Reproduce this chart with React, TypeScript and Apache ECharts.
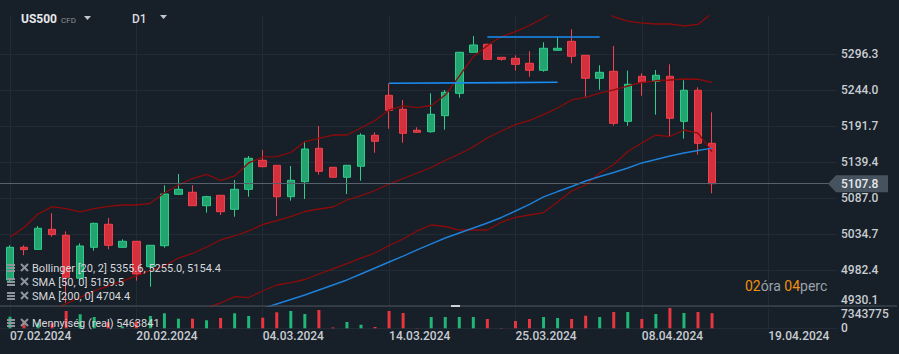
import React, { useEffect, useRef } from 'react';
import * as echarts from 'echarts';

// ---------- data ----------
const dates = [
  '07.02.2024','08.02.2024','09.02.2024','12.02.2024','13.02.2024','14.02.2024','15.02.2024','16.02.2024','19.02.2024','20.02.2024',
  '21.02.2024','22.02.2024','23.02.2024','26.02.2024','27.02.2024','28.02.2024','29.02.2024','01.03.2024','04.03.2024',
  '05.03.2024','06.03.2024','07.03.2024','08.03.2024','10.03.2024','11.03.2024','12.03.2024','13.03.2024','14.03.2024',
  '15.03.2024','17.03.2024','18.03.2024','19.03.2024','20.03.2024','21.03.2024','22.03.2024','24.03.2024','25.03.2024',
  '26.03.2024','27.03.2024','28.03.2024','01.04.2024','02.04.2024','03.04.2024','04.04.2024','05.04.2024','08.04.2024',
  '09.04.2024','10.04.2024','11.04.2024','12.04.2024','15.04.2024','16.04.2024','17.04.2024','18.04.2024','19.04.2024'
];

const opens = [
  4967.9, 5015.4, 5012.4, 5041.5, 5032.8, 4970.5, 5015.4, 5048.8, 5015.4, 5024.1,
  4987.2, 5017.7, 5092.4, 5095.3, 5075.8, 5090.9, 5070.6, 5099.6, 5141.8, 5134.5,
  5088.9, 5110.7, 5159.2, 5131.6, 5117.1, 5133.1, 5178.1, 5236.2, 5215.9, 5185.4,
  5183.3, 5206.6, 5239.1, 5298.7, 5310.3, 5291.4, 5289.9, 5282.7, 5272.5, 5301.6,
  5314.6, 5294.3, 5260.9, 5271.1, 5198.4, 5263.8, 5256.5, 5263.8, 5198.4, 5243.5, 5166.5
];
const closes = [
  5015.4, 5012.0, 5043.0, 5033.8, 4971.8, 5017.3, 5050.2, 5018.3, 5024.1, 4976.6,
  5018.3, 5092.8, 5099.6, 5075.8, 5088.9, 5067.1, 5099.6, 5144.7, 5132.5, 5088.9,
  5112.7, 5158.2, 5125.8, 5117.1, 5134.5, 5178.1, 5169.4, 5214.4, 5181.0, 5182.5,
  5208.6, 5240.6, 5298.7, 5309.3, 5288.5, 5288.5, 5281.2, 5272.5, 5304.5, 5304.5,
  5292.9, 5260.9, 5269.6, 5195.5, 5252.2, 5255.1, 5265.3, 5202.8, 5243.5, 5166.5, 5107.8
];
const lows = [
  4963.5, 5003.8, 5012.0, 5030.8, 4934.9, 4967.9, 5010.4, 5012.5, 5015.0, 4966.9,
  4958.1, 5014.8, 5092.0, 5075.5, 5065.6, 5062.3, 5059.8, 5088.9, 5131.6, 5060.9,
  5083.1, 5085.5, 5120.9, 5117.0, 5092.8, 5112.1, 5152.8, 5187.7, 5167.3, 5182.0,
  5181.9, 5186.2, 5232.7, 5298.7, 5288.0, 5286.5, 5272.0, 5263.2, 5270.5, 5301.0,
  5282.7, 5234.2, 5244.3, 5192.0, 5192.0, 5235.6, 5208.0, 5176.6, 5173.2, 5149.9, 5093.8
];
const highs = [
  5018.3, 5018.3, 5046.3, 5064.8, 5038.6, 5021.2, 5051.0, 5058.0, 5027.0, 5024.5,
  5018.5, 5105.4, 5121.9, 5105.4, 5090.3, 5091.0, 5113.2, 5148.0, 5156.7, 5134.5,
  5133.5, 5169.8, 5191.6, 5132.0, 5135.0, 5181.0, 5182.5, 5253.6, 5229.4, 5189.7,
  5239.1, 5243.9, 5299.0, 5322.4, 5311.0, 5291.5, 5294.3, 5300.1, 5313.2, 5321.0,
  5332.1, 5294.5, 5279.8, 5307.8, 5272.0, 5268.2, 5272.9, 5281.2, 5258.0, 5247.8, 5211.5
];
const volumes = [
  4196500, 2748300, 1987600, 1812400, 6255100, 5061800, 4093200, 2214700, 718900, 2496300,
  4452600, 5427900, 3468200, 3474100, 2893500, 3727800, 5431600, 4449300, 3826400, 5792100,
  6258700, 5168400, 6617300, 301200, 2283600, 1297500, 468300, 6262400, 5528100, 98700,
  4087900, 4094600, 4091300, 4085200, 3362700, 104800, 2638900, 3357400, 4092800, 3731600,
  3364100, 4558200, 4089700, 5897300, 5903600, 3358900, 5172500, 7343775, 5526400, 5898200, 5463841
];
const bollUpper = [
  5029.9, 5044.1, 5063.8, 5074.4, 5071.7, 5066.7, 5071.7, 5074.7, 5076.8, 5076.8, 5079.3,
  5094.7, 5105.9, 5115.3, 5121.4, 5112.4, 5119.0, 5137.9, 5146.6, 5147.0, 5153.1,
  5168.8, 5173.7, 5178.5, 5178.5, 5188.7, 5199.6, 5214.8, 5220.7, 5218.2, 5221.4,
  5236.6, 5264.2, 5292.3, 5308.6, 5321.6, 5328.6, 5337.6, 5348.5, 5361.6, 5368.8,
  5371.8, 5365.9, 5350.0, 5344.1, 5341.2, 5339.8, 5339.8, 5336.9, 5339.1, 5355.6
];
const bollMiddle = [
  null, null, null, 4924.3, 4933.4, 4942.6, 4951.9, 4959.2, 4966.1, 4974.0, 4981.7,
  4988.2, 4999.8, 5006.4, 5015.8, 5026.0, 5031.8, 5039.1, 5048.5, 5054.3, 5060.1,
  5067.4, 5071.0, 5073.9, 5084.1, 5090.6, 5097.9, 5107.3, 5115.3, 5123.3, 5131.3,
  5141.5, 5150.9, 5161.5, 5174.2, 5184.3, 5193.5, 5199.6, 5208.0, 5217.8, 5229.4,
  5233.3, 5239.5, 5244.2, 5249.7, 5254.8, 5257.3, 5258.4, 5259.9, 5259.5, 5255.0
];
const bollLower = [
  null, null, null, null, null, null, null, null, null, null, null, null, null,
  4915.6, 4927.2, 4934.5, 4943.6, 4942.4, 4951.9, 4960.6, 4964.2,
  4968.6, 4976.6, 4983.9, 4991.8, 4999.8, 5007.1, 5018.0, 5027.4, 5039.1, 5047.8,
  5045.6, 5040.5, 5040.5, 5040.5, 5052.1, 5058.7, 5062.3, 5065.9, 5081.2, 5097.2,
  5105.9, 5123.3, 5135.7, 5154.6, 5166.9, 5178.5, 5176.3, 5185.8, 5181.4, 5154.4
];
const sma50 = [
  null, null, null, null, null, null, null, null, null, null,
  null, null, null, null, null, null, null, null,
  4926.5, 4933.0, 4939.5, 4946.1, 4953.3, 4960.6, 4967.9, 4976.6, 4985.3, 4994.0,
  5002.7, 5011.5, 5020.2, 5028.9, 5036.2, 5043.4, 5050.7, 5058.7, 5068.1, 5077.6,
  5088.5, 5096.4, 5103.7, 5111.7, 5118.2, 5124.0, 5130.6, 5137.9, 5142.9, 5148.0,
  5152.4, 5156.0, 5159.5
];
const priceTicks = [4930.1, 4982.4, 5034.7, 5087.0, 5139.4, 5191.7, 5244.0, 5296.3];
const dateTicks = [0, 9, 18, 27, 36, 45, 54];
// drawn horizontal levels: [startIndex, startPrice, endIndex, endPrice]
const levelLow = [27, 5253.6, 39, 5255.1];
const levelHigh = [34, 5321.9, 42, 5321.9];

const legendRows = [
  'Bollinger [20, 2] 5355.6, 5255.0, 5154.4',
  'SMA [50, 0] 5159.5',
  'SMA [200, 0] 4704.4',
];
const volumeLegend = 'Mennyiség (real) 5463841';

// ---------- style ----------
const BG = '#171f28';
const GRID = '#222b35';
const GREEN = '#22a36f';
const GREEN_B = '#2dcf8b';
const RED = '#d5303d';
const RED_B = '#f2404c';
const DARK_RED = '#8c0b0b';
const BLUE = '#1f80d8';
const LEVEL_BLUE = '#1a8cf2';
const LABEL = '#c8cdd2';
const FONT = 'Roboto';

const X_MIN = -0.71;
const X_MAX = 58.9;
const Y_MIN = 4930.1;
const Y_MAX = 5351.4;

function iconRow(y: number, id: string) {
  const c = '#8e959c';
  return [
    { type: 'rect', id: id + 'h1', shape: { x: 7, y: y - 4, width: 8, height: 2 }, style: { fill: c }, z: 100 },
    { type: 'rect', id: id + 'h2', shape: { x: 7, y: y - 1, width: 8, height: 2 }, style: { fill: c }, z: 100 },
    { type: 'rect', id: id + 'h3', shape: { x: 7, y: y + 2, width: 8, height: 2 }, style: { fill: c }, z: 100 },
    { type: 'line', id: id + 'x1', shape: { x1: 21, y1: y - 4, x2: 28, y2: y + 3 }, style: { stroke: c, lineWidth: 2 }, z: 100 },
    { type: 'line', id: id + 'x2', shape: { x1: 21, y1: y + 3, x2: 28, y2: y - 4 }, style: { stroke: c, lineWidth: 2 }, z: 100 },
  ];
}

export default function App() {
  const ref = useRef<HTMLDivElement>(null);

  useEffect(() => {
    if (!ref.current) return;
    const chart = echarts.init(ref.current, undefined, { renderer: 'svg' });

    const candleData = opens.map((o, i) => [i, o, closes[i], lows[i], highs[i]]);
    const toPts = (arr: (number | null)[]) => arr.map((v, i) => [i, v]);
    const volMax = Math.max(...volumes);
    const last = closes.length - 1;

    const axisText = { color: LABEL, fontFamily: FONT, fontSize: 12, fontWeight: 500 };

    const legendGraphics: any[] = [];
    const rowYs = [268, 282, 296];
    legendRows.forEach((t, k) => {
      legendGraphics.push(...iconRow(rowYs[k], 'r' + k));
      legendGraphics.push({
        type: 'text', id: 'lt' + k, x: 32, y: rowYs[k], z: 100,
        style: { text: t, fill: '#d6d9dc', font: `11px ${FONT}`, verticalAlign: 'middle' },
      });
    });
    legendGraphics.push(...iconRow(323, 'rv'));
    legendGraphics.push({
      type: 'text', id: 'ltv', x: 32, y: 323, z: 100,
      style: { text: volumeLegend, fill: '#d6d9dc', font: `11px ${FONT}`, verticalAlign: 'middle' },
    });

    const option: any = {
      animation: false,
      backgroundColor: BG,
      grid: [
        { left: 0, right: 62, top: 16, height: 290 },
        { left: 0, right: 62, top: 308, height: 20.3 },
      ],
      xAxis: [
        {
          type: 'value', gridIndex: 0, min: X_MIN, max: X_MAX,
          axisLine: { show: false },
          axisTick: { show: false, customValues: dateTicks },
          axisLabel: { show: false, customValues: dateTicks },
          splitLine: { show: true, lineStyle: { color: GRID, width: 1 } },
        },
        {
          type: 'value', gridIndex: 1, min: X_MIN, max: X_MAX,
          axisLine: { show: true, lineStyle: { color: GRID } },
          axisTick: { show: false, customValues: dateTicks },
          axisLabel: {
            ...axisText, customValues: dateTicks, align: 'left', margin: 2,
            formatter: (v: number) => dates[Math.round(v)] ?? '',
          },
          splitLine: { show: true, lineStyle: { color: GRID, width: 1 } },
        },
      ],
      yAxis: [
        {
          type: 'value', gridIndex: 0, position: 'right', min: Y_MIN, max: Y_MAX,
          axisLine: { show: false },
          axisTick: { show: false, customValues: priceTicks },
          axisLabel: {
            ...axisText, customValues: priceTicks, align: 'left', margin: 4,
            showMinLabel: true, showMaxLabel: true,
            verticalAlignMinLabel: 'bottom',
            formatter: (v: number) => v.toFixed(1),
          },
          splitLine: { show: true, lineStyle: { color: GRID, width: 1 } },
        },
        {
          type: 'value', gridIndex: 1, position: 'right', min: 0, max: volMax,
          axisLine: { show: false },
          axisTick: { show: false, customValues: [0, volMax] },
          axisLabel: {
            ...axisText, customValues: [0, volMax], align: 'left', margin: 4,
            lineHeight: 11, showMinLabel: true, showMaxLabel: true, hideOverlap: false,
            verticalAlignMaxLabel: 'top',
            formatter: (v: number) => String(Math.round(v)),
          },
          splitLine: { show: false },
        },
      ],
      series: [
        {
          type: 'candlestick', name: 'US500', xAxisIndex: 0, yAxisIndex: 0,
          data: candleData, encode: { x: 0, y: [1, 2, 3, 4] }, barWidth: 8, z: 2,
          itemStyle: { color: GREEN, color0: RED, borderColor: GREEN_B, borderColor0: RED_B, borderWidth: 1 },
          markLine: {
            silent: true, symbol: ['none', 'none'], label: { show: false },
            lineStyle: { color: '#56616d', width: 1, type: 'solid' },
            data: [{ yAxis: closes[last] }],
          },
        },
        {
          type: 'line', name: 'upper', xAxisIndex: 0, yAxisIndex: 0, data: toPts(bollUpper),
          showSymbol: false, symbol: 'none', z: 3, lineStyle: { color: DARK_RED, width: 1.3 },
        },
        {
          type: 'line', name: 'middle', xAxisIndex: 0, yAxisIndex: 0, data: toPts(bollMiddle),
          showSymbol: false, symbol: 'none', z: 3, lineStyle: { color: DARK_RED, width: 1.3 },
        },
        {
          type: 'line', name: 'lower', xAxisIndex: 0, yAxisIndex: 0, data: toPts(bollLower),
          showSymbol: false, symbol: 'none', z: 3, lineStyle: { color: DARK_RED, width: 1.3 },
        },
        {
          type: 'line', name: 'sma50', xAxisIndex: 0, yAxisIndex: 0, data: toPts(sma50),
          showSymbol: false, symbol: 'none', z: 4, lineStyle: { color: BLUE, width: 1.4 },
          markLine: {
            silent: true, symbol: ['none', 'none'], label: { show: false },
            lineStyle: { color: LEVEL_BLUE, width: 1.6, type: 'solid' },
            data: [
              [{ coord: [levelLow[0], levelLow[1]] }, { coord: [levelLow[2], levelLow[3]] }],
              [{ coord: [levelHigh[0], levelHigh[1]] }, { coord: [levelHigh[2], levelHigh[3]] }],
            ],
          },
        },
        {
          type: 'bar', name: 'volume', xAxisIndex: 1, yAxisIndex: 1,
          data: volumes.map((v, i) => [i, v]), barWidth: 3,
          itemStyle: {
            color: (p: any) => (closes[p.dataIndex] >= opens[p.dataIndex] ? '#1fb676' : '#e8353f'),
          },
        },
      ],
      graphic: [
        { type: 'line', id: 'sep', shape: { x1: 0, y1: 306, x2: 897, y2: 306 }, style: { stroke: '#4a535d', lineWidth: 1 }, z: 50 },
        { type: 'rect', id: 'handle', shape: { x: 451, y: 305, width: 9, height: 2 }, style: { fill: '#cfd3d7' }, z: 51 },
        { type: 'text', id: 'sym', x: 21, y: 19, z: 100, style: { text: 'US500', fill: '#e6e8eb', font: `bold 12px ${FONT}`, verticalAlign: 'middle' } },
        { type: 'text', id: 'cfd', x: 61, y: 20, z: 100, style: { text: 'CFD', fill: '#8a9299', font: `8px ${FONT}`, verticalAlign: 'middle' } },
        { type: 'polygon', id: 'tri1', shape: { points: [[84, 16], [91, 16], [87.5, 20]] }, style: { fill: '#c4c8cc' }, z: 100 },
        { type: 'text', id: 'tf', x: 132, y: 19, z: 100, style: { text: 'D1', fill: '#d8dbde', font: `500 12px ${FONT}`, verticalAlign: 'middle' } },
        { type: 'polygon', id: 'tri2', shape: { points: [[160, 15], [167, 15], [163.5, 19]] }, style: { fill: '#c4c8cc' }, z: 100 },
        {
          type: 'text', id: 'timer', x: 745, y: 286, z: 100,
          style: {
            text: '{a|02}{b|óra} {a|04}{b|perc}', verticalAlign: 'middle', font: `14px ${FONT}`,
            rich: {
              a: { fill: '#f0900c', fontSize: 14, fontFamily: FONT },
              b: { fill: '#9aa2aa', fontSize: 14, fontFamily: FONT },
            },
          },
        },
        ...legendGraphics,
      ],
    };

    chart.setOption(option);

    const py = chart.convertToPixel({ gridIndex: 0 } as any, [last, closes[last]]) as number[];
    if (py && isFinite(py[1])) {
      const y = py[1];
      chart.setOption({
        graphic: [
          {
            type: 'polygon', id: 'tagBox', z: 60,
            shape: { points: [[828, y], [836, y - 8.5], [888, y - 8.5], [888, y + 8.5], [836, y + 8.5]] },
            style: { fill: '#46535f' },
          },
          {
            type: 'text', id: 'tagText', x: 841, y, z: 61,
            style: { text: closes[last].toFixed(1), fill: '#e8eaec', font: `500 12px ${FONT}`, verticalAlign: 'middle' },
          },
        ],
      });
    }

    return () => chart.dispose();
  }, []);

  return (
    <div
      ref={ref}
      style={{ position: 'fixed', left: 0, top: 0, width: 899, height: 354, background: BG }}
    />
  );
}
